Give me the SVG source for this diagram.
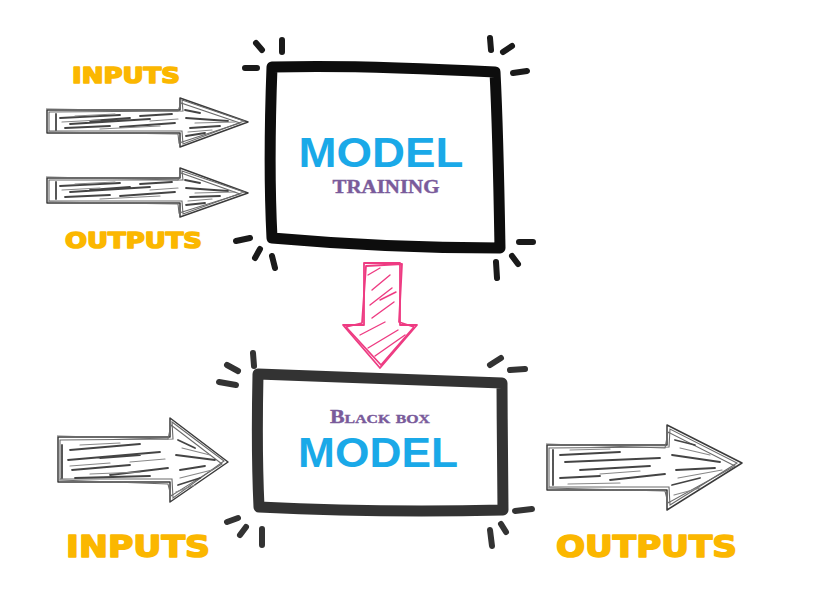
<svg xmlns="http://www.w3.org/2000/svg" width="822" height="613" viewBox="0 0 822 613">
<style>
.bg{fill:#ffffff}
.box{fill:none;stroke-linecap:round;stroke-linejoin:round;stroke-width:11}
.b1{stroke:#0d0d0d}
.b2{stroke:#333333}
.tick{fill:none;stroke-linecap:round;stroke-width:6}
.t1{stroke:#1a1a1a}
.t2{stroke:#333333}
.model{font-family:"Liberation Sans",Arial,sans-serif;font-weight:bold;font-size:42px;fill:#1aa9e8}
.sub{font-family:"Liberation Serif","Times New Roman",serif;font-weight:bold;fill:#7a5b9b;stroke:#7a5b9b;stroke-width:0.4}
.lbl{font-family:"DejaVu Sans",sans-serif;font-weight:bold;fill:#fbb700;stroke:#fbb700;stroke-width:1.6;stroke-linejoin:round}
.aro{fill:none;stroke:#3a3a3a;stroke-width:1.5;stroke-linejoin:round}
.aro2{fill:none;stroke:#6a6a6a;stroke-width:1.1}
.hatch{fill:none;stroke:#444444;stroke-width:1.8;stroke-linecap:round}
.hatch2{fill:none;stroke:#888888;stroke-width:1.2;stroke-linecap:round}
.pink{fill:none;stroke:#ee3b82;stroke-width:1.8;stroke-linejoin:round}
.pinkh{fill:none;stroke:#ee3b82;stroke-width:1.4;stroke-linecap:round}
</style>
<rect class="bg" x="0" y="0" width="822" height="613"/>

<g id="connectors">
  <g id="arrow-in-top1">
    <path class="aro" d="M47,110 L180,110 L180,98 L248,122 L180,147 L180,133 L47,133 Z"/>
    <path class="aro2" d="M49,112 L183,111 L182,100 L244,121 L183,144 L182,131 L49,131 Z"/>
    <path class="aro2" d="M46,109 L178,111 L181,103 L240,123 L179,143 L178,134 L48,132"/>
    <path class="hatch" d="M60,118 L120,115 M70,124 L150,119 M65,128 L110,126 M120,127 L175,123 M140,116 L172,114 M185,110 L200,113 M186,118 L228,121 M190,128 L220,126 M186,136 L205,133 M56,114 L56,130 M90,121 L130,118"/>
    <path class="hatch2" d="M62,122 L100,120 M100,129 L160,126 M75,116 L115,114 M150,121 L178,119 M195,123 L235,122 M188,132 L212,130"/>
  </g>
  <g id="arrow-in-top2">
    <path class="aro" d="M47,178 L180,178 L180,168 L248,193 L180,217 L180,203 L47,203 Z"/>
    <path class="aro2" d="M49,180 L183,180 L182,171 L244,192 L183,214 L182,201 L49,201 Z"/>
    <path class="aro2" d="M46,177 L178,180 L181,173 L240,194 L179,213 L178,204 L48,202"/>
    <path class="hatch" d="M60,186 L120,183 M70,192 L150,187 M65,197 L110,195 M120,196 L175,192 M140,184 L172,182 M185,180 L200,183 M186,188 L228,191 M190,197 L220,196 M186,205 L205,203 M56,182 L56,199 M90,190 L130,187"/>
    <path class="hatch2" d="M62,190 L100,188 M100,199 L160,196 M75,184 L115,182 M150,190 L178,188 M195,193 L235,192 M188,201 L212,199"/>
  </g>
  <g id="arrow-down">
    <path class="pink" d="M364,263 L400,263 L400,325 L417,325 L380,368 L343,325 L364,325 Z"/>
    <path class="pink" d="M366,266 L402,264 L399,322 L414,327 L381,365 L346,327 L362,323 Z"/>
    <path class="pinkh" d="M372,290 L390,275 M370,305 L392,288 M372,318 L394,302 M360,335 L385,322 M368,348 L398,330 M375,356 L405,335 M368,275 L380,268 M380,300 L396,292"/>
  </g>
  <g id="arrow-in-bottom">
    <path class="aro" d="M58,437 L170,437 L170,418 L228,462 L170,502 L170,482 L58,482 Z"/>
    <path class="aro2" d="M60,440 L173,439 L172,422 L224,461 L173,498 L172,479 L60,479 Z"/>
    <path class="aro2" d="M57,436 L168,439 L171,425 L222,464 L171,496 L168,484 L59,480"/>
    <path class="hatch" d="M70,450 L140,444 M68,460 L160,452 M72,470 L130,465 M110,475 L168,468 M75,478 L150,476 M178,440 L195,448 M176,455 L215,460 M180,470 L205,466 M178,485 L200,478 M62,445 L62,478 M100,458 L140,455"/>
    <path class="hatch2" d="M80,445 L120,443 M70,466 L110,463 M130,462 L165,459 M90,474 L140,472 M182,448 L210,455 M180,478 L212,470 M176,492 L195,485"/>
  </g>
  <g id="arrow-out-bottom">
    <path class="aro" d="M547,445 L667,445 L667,425 L742,463 L667,510 L667,490 L547,490 Z"/>
    <path class="aro2" d="M549,448 L669,447 L670,429 L737,463 L670,505 L669,487 L549,487 Z"/>
    <path class="aro2" d="M546,444 L665,448 L668,432 L735,466 L668,503 L665,491 L548,488"/>
    <path class="hatch" d="M560,455 L620,452 M565,462 L660,458 M580,470 L650,466 M560,478 L600,476 M610,480 L665,474 M675,440 L695,445 M672,455 L720,462 M676,470 L715,468 M672,485 L700,478 M553,450 L553,485"/>
    <path class="hatch2" d="M570,450 L610,449 M600,474 L640,471 M568,484 L620,483 M680,448 L710,455 M678,478 L722,470 M674,495 L700,488"/>
  </g>
</g>

<g id="node-training">
  <path class="box b1" d="M272,67 C340,65 420,68 495,72 C498,130 499,190 500,248 C420,248 340,244 272,238 C269,180 270,120 272,67 Z"/>
  <path class="tick t1" d="M256,43 L262,50 M282,40 L282,52 M245,68 L257,68 M490,38 L491,50 M503,52 L512,46 M513,73 L527,71 M236,241 L250,238 M260,249 L255,258 M272,256 L275,268 M519,242 L533,242 M512,256 L518,264 M496,262 L497,278"/>
  <text class="model" x="381" y="167" text-anchor="middle" textLength="165" lengthAdjust="spacingAndGlyphs">MODEL</text>
  <text class="sub" x="386" y="193" font-size="19" text-anchor="middle" textLength="107" lengthAdjust="spacingAndGlyphs">TRAINING</text>
</g>

<g id="node-blackbox">
  <path class="box b2" d="M258,374 C340,377 420,380 502,383 C502,425 503,465 503,510 C420,512 340,511 259,507 C257,465 257,420 258,374 Z"/>
  <path class="tick t2" d="M253,353 L254,366 M227,365 L238,371 M219,382 L236,385 M490,365 L501,358 M510,370 L525,369 M227,522 L238,518 M240,535 L246,527 M262,529 L262,545 M515,511 L532,509 M501,524 L506,532 M490,530 L492,546"/>
  <text class="sub" x="380" y="423" font-size="18" text-anchor="middle" style="font-variant:small-caps" textLength="100" lengthAdjust="spacingAndGlyphs">Black box</text>
  <text class="model" x="378" y="467" text-anchor="middle" textLength="160" lengthAdjust="spacingAndGlyphs">MODEL</text>
</g>

<g id="labels">
  <text class="lbl" x="72" y="83" font-size="22" textLength="108" lengthAdjust="spacingAndGlyphs">INPUTS</text>
  <text class="lbl" x="65" y="248" font-size="22" textLength="137" lengthAdjust="spacingAndGlyphs">OUTPUTS</text>
  <text class="lbl" x="66" y="557" font-size="30" textLength="144" lengthAdjust="spacingAndGlyphs">INPUTS</text>
  <text class="lbl" x="556" y="557" font-size="30" textLength="181" lengthAdjust="spacingAndGlyphs">OUTPUTS</text>
</g>
</svg>
